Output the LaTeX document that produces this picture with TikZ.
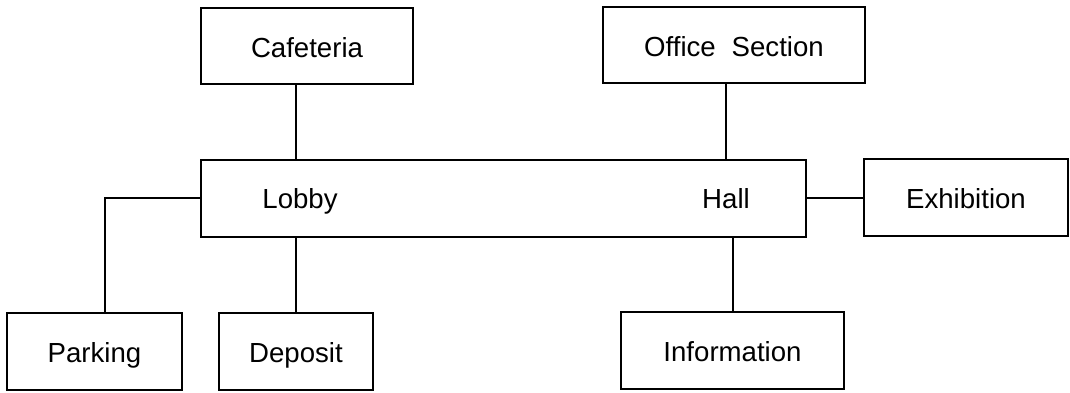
\documentclass[tikz,border=0pt]{standalone}
\usepackage{fontspec}
\setmainfont{Liberation Sans}
\usetikzlibrary{positioning}

\begin{document}
\begin{tikzpicture}[
    x=0.5pt, y=-0.5pt,
    room/.style={rectangle, draw, line width=1pt, inner sep=0pt, text height=11.2pt, text depth=0pt, font=\fontsize{13.8}{16}\selectfont},
    word/.style={inner sep=0pt, text height=11.2pt, text depth=0pt, font=\fontsize{13.8}{16}\selectfont},
    link/.style={line width=1pt}
]
    \useasboundingbox (0,0) rectangle (1070,392);

    \node[room, minimum width=106pt, minimum height=38pt] (cafeteria) at (307,46) {Cafeteria};
    \node[room, minimum width=131pt, minimum height=38pt] (office) at (734,45) {Office\hspace{0.3em} Section};

    \node[room, minimum width=302.5pt, minimum height=38.5pt] (mainbox) at (503.5,198.5) {};
    \node[word] (lobby) at (300,197.5) {Lobby};
    \node[word] (hall) at (726,197.5) {Hall};
    \node[room, minimum width=102pt, minimum height=38.5pt] (exhibition) at (966,197.5) {Exhibition};

    \node[room, minimum width=87.5pt, minimum height=38.5pt] (parking) at (94.5,351.5) {Parking};
    \node[room, minimum width=77pt, minimum height=38.5pt] (deposit) at (296,351.5) {Deposit};
    \node[room, minimum width=111.5pt, minimum height=38.5pt] (information) at (732.5,350.5) {Information};

    \draw[link] (cafeteria.south -| deposit) -- (mainbox.north -| deposit);
    \draw[link] (office.south -| hall) -- (mainbox.north -| hall);
    \draw[link] (mainbox.east |- exhibition) -- (exhibition.west);
    \draw[link] (mainbox.west |- lobby) -| ([xshift=5pt]parking.north);
    \draw[link] (mainbox.south -| deposit) -- (deposit.north);
    \draw[link] (mainbox.south -| information) -- (information.north);

\end{tikzpicture}
\end{document}
